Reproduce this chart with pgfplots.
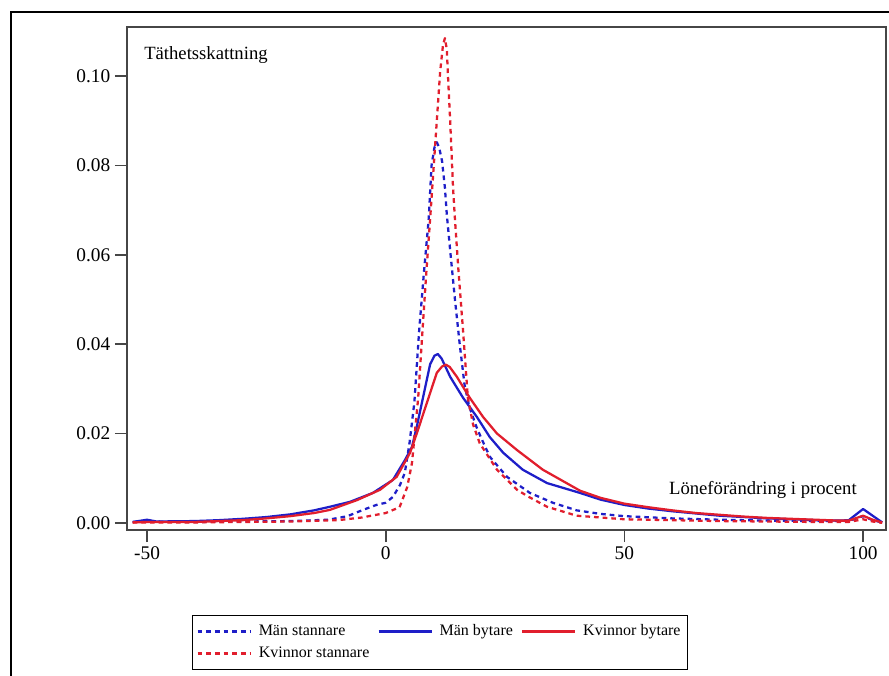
\documentclass[border=0pt]{standalone}
\usepackage{pgfplots}
\pgfplotsset{compat=1.18}
\usepackage{fontspec}
\setmainfont{Liberation Serif}
\definecolor{sasblue}{RGB}{30,30,200}
\definecolor{sasred}{RGB}{225,30,45}
\definecolor{axgray}{RGB}{70,70,70}

\begin{document}
\begin{tikzpicture}
\path[use as bounding box] (-95.25pt,-108.75pt) rectangle (571.5pt,397.5pt);
% outer frame of the figure
\draw[line width=1pt] (-87pt,-110pt) -- (-87pt,388.5pt) -- (575pt,388.5pt);
\begin{axis}[
    scale only axis,
    width=569.25pt, height=377.25pt,
    at={(0pt,0pt)}, anchor=south west,
    xmin=-54.2, xmax=104.8,
    ymin=-0.0016, ymax=0.111,
    xtick={-50,0,50,100},
    ytick={0,0.02,0.04,0.06,0.08,0.10},
    yticklabel style={/pgf/number format/.cd,fixed,fixed zerofill,precision=2},
    /pgf/number format/assume math mode=true,
    tick label style={font=\fontsize{14.5}{16}\selectfont},
    tick pos=left,
    tick align=outside,
    major tick length=9pt,
    every tick/.style={axgray, line width=1.2pt},
    axis line style={axgray, line width=1.2pt},
    legend columns=3,
    legend cell align=left,
    legend style={at={(0.0856,-0.169)}, anchor=north west,
        draw=black, line width=0.8pt, inner xsep=3pt, inner ysep=5pt,
        row sep=3pt,
        font=\fontsize{12}{14}\selectfont,
        /tikz/every odd column/.append style={column sep=3pt},
        /tikz/every even column/.append style={column sep=4pt}},
    legend image code/.code={\draw[#1] (0pt,0pt) -- (40pt,0pt);},
    every axis plot/.append style={line width=1.7pt, line join=round},
    stan/.style={dash pattern=on 3.5pt off 3pt},
]
% Man stannare
\addplot[sasblue, stan] coordinates {
(-53,0.0002) (-50,0.0003) (-40,0.0002) (-30,0.0003) (-20,0.0004) (-12,0.0007)
(-8,0.0015) (-5,0.0028) (-2,0.0040) (0,0.0045) (1.5,0.0058) (3,0.0085) (4,0.0112)
(5,0.018) (6,0.027) (7,0.043) (8,0.056) (9,0.068) (9.6,0.080) (10.2,0.084)
(10.7,0.0852) (11.2,0.084) (11.8,0.081) (12.4,0.075) (12.8,0.069) (13.5,0.061)
(14.5,0.050) (15.5,0.040) (16.5,0.031) (17.5,0.026) (19,0.0215) (20,0.019)
(21.8,0.0148) (25.4,0.0103) (30.2,0.0067) (35,0.0045) (40,0.0028) (45,0.0020)
(50,0.0015) (60,0.0010) (70,0.0007) (80,0.0005) (90,0.0004) (97,0.0004)
(100,0.0015) (102,0.0006) (104,0.0001)};
\addlegendentry{Män stannare}
% Man bytare
\addplot[sasblue] coordinates {
(-53,0.0002) (-50,0.0007) (-48,0.0003) (-40,0.0004) (-35,0.0006) (-30,0.0009)
(-25,0.0013) (-20,0.0019) (-15,0.0028) (-11.7,0.0036) (-7.5,0.0047) (-2.7,0.0067)
(1.5,0.0096) (4,0.014) (5.5,0.017) (6.5,0.0215) (7.8,0.028) (9.3,0.0355)
(10.2,0.0374) (10.9,0.0378) (11.7,0.0368) (13.5,0.0327) (16.2,0.028) (19.1,0.0237)
(21.8,0.0192) (24.6,0.0157) (28.7,0.0119) (33.8,0.0089) (40.7,0.0067) (45,0.0052)
(50,0.0040) (55,0.0032) (60,0.0026) (65,0.0021) (70,0.0016) (75,0.0013)
(80,0.0010) (85,0.0008) (90,0.0006) (95,0.0005) (97,0.0006) (100,0.0031)
(102,0.0016) (104,0.0001)};
\addlegendentry{Män bytare}
% Kvinnor bytare
\addplot[sasred] coordinates {
(-53,0.0001) (-50,0.0002) (-40,0.0002) (-30,0.0006) (-25,0.0010) (-20,0.0015)
(-15,0.0022) (-11.7,0.0029) (-6,0.0051) (-1.2,0.0074) (2.3,0.0103) (5.1,0.0157)
(6.5,0.020) (8.6,0.0268) (10.7,0.0336) (11.8,0.0350) (12.6,0.0354) (13.4,0.0349)
(14.9,0.0327) (17.6,0.028) (20.4,0.0237) (23.3,0.020) (27.5,0.0163) (32.9,0.0119)
(40.7,0.0072) (45,0.0056) (50,0.0043) (55,0.0035) (60,0.0028) (65,0.0022)
(70,0.0018) (75,0.0014) (80,0.0011) (85,0.0009) (90,0.0007) (95,0.0005)
(97,0.0005) (100,0.0016) (102,0.0007) (104,0.0001)};
\addlegendentry{Kvinnor bytare}
% Kvinnor stannare
\addplot[sasred, stan] coordinates {
(-53,0.0001) (-40,0.0001) (-20,0.0003) (-10,0.0006) (-5,0.0012) (0,0.0022)
(2.9,0.0035) (4.5,0.0080) (5.5,0.0134) (6.8,0.028) (7.7,0.043) (8.5,0.056)
(9.3,0.068) (10,0.079) (10.7,0.090) (11.4,0.101) (12,0.107) (12.4,0.1085)
(12.8,0.106) (13.0,0.101) (13.5,0.090) (14.1,0.075) (14.5,0.068) (15.2,0.057)
(16.2,0.043) (17.2,0.028) (18.3,0.022) (19.7,0.0178) (23.3,0.0119) (27.5,0.0074)
(30,0.0058) (33.8,0.0036) (40,0.0016) (50,0.0008) (60,0.0006) (70,0.0004)
(80,0.0003) (90,0.0002) (97,0.0002) (100,0.0008) (102,0.0003) (104,0.0)};
\addlegendentry{Kvinnor stannare}
\node[anchor=base west, inner sep=0pt, font=\fontsize{14}{16}\selectfont]
    at (rel axis cs:0.0224,0.936) {Täthetsskattning};
\node[anchor=base east, inner sep=0pt, font=\fontsize{14}{16}\selectfont]
    at (rel axis cs:0.9618,0.0696) {Löneförändring i procent};
\end{axis}
\end{tikzpicture}
\end{document}
